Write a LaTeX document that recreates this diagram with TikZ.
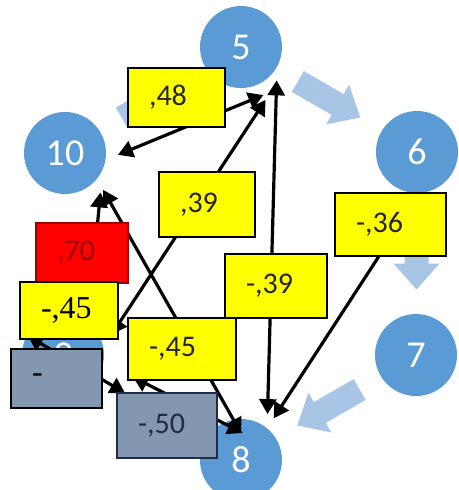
\documentclass[tikz,border=0pt]{standalone}
\usepackage{fontspec}
\setmainfont{Carlito}
\newfontfamily\timesfont{Liberation Serif}
\usepackage{xcolor}
\usepackage{tikz}
\usetikzlibrary{arrows.meta, calc}

\definecolor{itemblue}{HTML}{5B9BD5}
\definecolor{flowblue}{HTML}{A9C5E6}
\definecolor{boxyellow}{HTML}{FFFF00}
\definecolor{boxred}{HTML}{FF0000}
\definecolor{boxgrey}{HTML}{8497B0}
\definecolor{darkred}{HTML}{A00000}
\definecolor{darknavy}{HTML}{1F2B47}

\begin{document}
\begin{tikzpicture}[
		x=1pt, y=-1pt,
		item/.style={circle, fill=itemblue, minimum size=82pt, inner sep=0pt, outer sep=12pt,
			text=white, font=\fontsize{38}{38}\selectfont},
		flow/.style={fill=flowblue},
		link/.style={line width=3.2pt, {Triangle[length=15pt,width=17pt]}-{Triangle[length=15pt,width=17pt]}},
		value/.style={draw=black, line width=1.4pt, inner ysep=0pt, inner xsep=21pt, align=left,
			font=\fontsize{30}{30}\selectfont, text=black!85},
		yellowbox/.style={value, fill=boxyellow},
		redbox/.style={value, fill=boxred, draw=boxred!60!black, text=darkred},
		greybox/.style={value, fill=boxgrey},
		serifbox/.style={font=\timesfont\fontsize{32}{32}\selectfont, text=black}
		]

	\useasboundingbox (0,0) rectangle (458,490);
	\clip (0,0) rectangle (458,490);

	% Circles
	\node[item] (c5) at (241,47) {5};
	\node[item] (c6) at (417,152) {6};
	\node[item] (c7) at (416,355) {7};
	\node[item] (c8) at (241,460) {8};
	\node[item] (c9) at (63,355) {9};
	\node[item] (c10) at (65,153) {10};

	% Flow arrows round the ring
	\foreach \a/\b/\r/\f in {c10/c5/30/0.5, c5/c6/-30/0.5, c6/c7/-90/0.5, c7/c8/-150/0.5, c8/c9/150/0.4, c9/c10/90/0.4}{
		\begin{scope}[shift={($(\a)!\f!(\b)$)}, rotate=\r]
			\fill[flow] (-36,-12) -- (10,-12) -- (10,-23) -- (36,0) -- (10,23) -- (10,12) -- (-36,12) -- cycle;
		\end{scope}
	}

	% Free ends
	\coordinate (p50) at (133,377);
	\coordinate (pdash) at (125,393);

	% Links
	\draw[link] (c10.-2) -- (c5.-65);
	\draw[link, shorten <=12pt] (c5.-54) -- (c9.23);
	\draw[link, shorten <=-15pt] (c6.-95) -- (c8.52);
	\draw[link, shorten <=-6pt] (c5.-48) -- (c8.60);
	\draw[link, shorten >=-28pt] (c10.-44) -- (c8.105);
	\draw[link] (c10.-48) -- (c9.60);
	\draw[link, shorten <=13pt] (c9.151) -- (pdash);
	\draw[link, shorten >=-36pt] (p50) -- (c8.125);

	% Value boxes
	\node[yellowbox, text width=55pt, minimum height=59pt] (v48) at (176.5,97.5) {,48};
	\node[yellowbox, text width=54pt, minimum height=65pt] (v39) at (207,204.5) {,39};
	\node[yellowbox, text width=69pt, minimum height=63pt] (v36) at (390.5,224.5) {-,36};
	\node[yellowbox, text width=60pt, minimum height=64pt] (v39n) at (276,286) {-,39};
	\node[redbox, text width=50pt, minimum height=60pt] (v70) at (82,253) {,70};
	\node[yellowbox, serifbox, text width=56pt, minimum height=57pt] (v45a) at (69,310.5) {-,45};
	\node[yellowbox, text width=66pt, minimum height=62pt] (v45b) at (182,349) {-,45};
	\node[greybox, serifbox, text width=49pt, minimum height=59pt] (vdash) at (56.5,378.5) {-};
	\node[greybox, draw=darknavy, text=darknavy, text width=58pt, minimum height=65pt] (v50) at (167,425.5) {-,50};

\end{tikzpicture}
\end{document}
